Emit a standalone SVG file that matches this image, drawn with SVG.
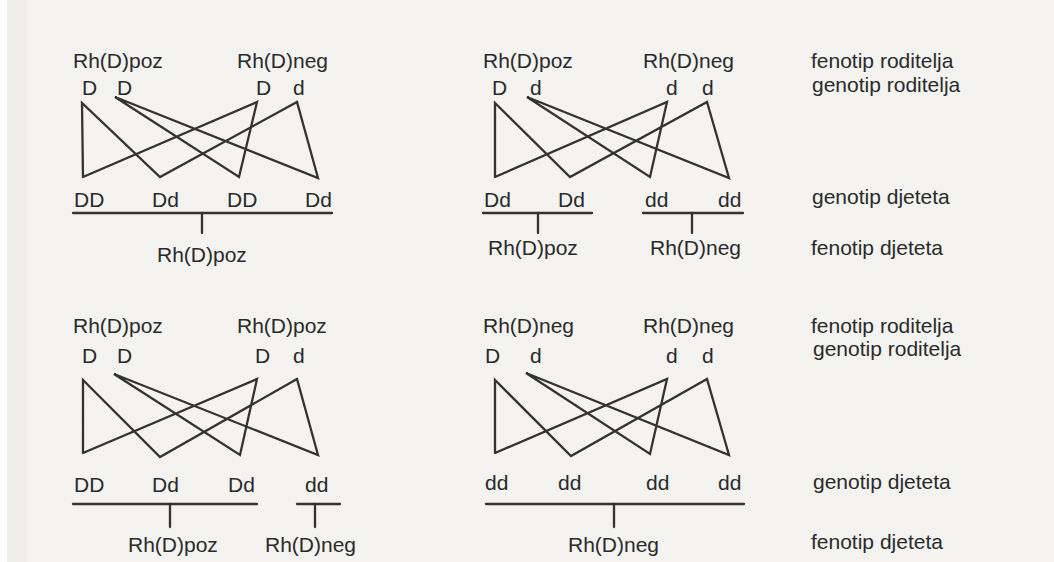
<svg xmlns="http://www.w3.org/2000/svg" width="1054" height="562" viewBox="0 0 1054 562">
<style>
text{font-family:"Liberation Sans",Arial,sans-serif;font-size:21px;fill:#2a2a2a}
.c line,.c polyline{stroke:#333;stroke-width:2.3;fill:none;stroke-linecap:round;stroke-linejoin:miter}
</style>
<rect width="1054" height="562" fill="#f4f3f0"/>
<rect x="0" y="0" width="7" height="562" fill="#fdfdfd"/>
<rect x="7" y="0" width="20" height="562" fill="#ecebe8" opacity="0.6"/>

<!-- Quadrant 1 -->
<g id="q1-parents">
<text x="73" y="68">Rh(D)poz</text>
<text x="237" y="68">Rh(D)neg</text>
<text x="82" y="95">D</text><text x="117" y="95">D</text>
<text x="256" y="95">D</text><text x="293" y="95">d</text>
</g>
<g id="q1-children">
<text x="74" y="207">DD</text><text x="152" y="207">Dd</text>
<text x="227" y="207">DD</text><text x="305" y="207">Dd</text>
<text x="157" y="262">Rh(D)poz</text>
</g>
<g id="q1-connectors" class="c">
<polyline points="83,177 82,103 160,177 297,102 318,178 115,97 239,177 257,102 83,177"/>
<line x1="73" y1="213" x2="332" y2="213"/>
<line x1="202" y1="213" x2="202" y2="233"/>
</g>

<!-- Quadrant 2 -->
<g id="q2-parents">
<text x="483" y="68">Rh(D)poz</text>
<text x="643" y="68">Rh(D)neg</text>
<text x="492" y="95">D</text><text x="530" y="95">d</text>
<text x="666" y="95">d</text><text x="702" y="95">d</text>
</g>
<g id="q2-children">
<text x="484" y="207">Dd</text><text x="558" y="207">Dd</text>
<text x="645" y="207">dd</text><text x="718" y="207">dd</text>
<text x="488" y="255">Rh(D)poz</text>
<text x="650" y="255">Rh(D)neg</text>
</g>
<g id="q2-connectors" class="c">
<polyline points="495,177 495,103 570,177 707,102 729,178 527,97 650,177 667,102 495,177"/>
<line x1="483" y1="213" x2="592" y2="213"/>
<line x1="538" y1="213" x2="538" y2="233"/>
<line x1="643" y1="213" x2="743" y2="213"/>
<line x1="692" y1="213" x2="692" y2="233"/>
</g>

<!-- Quadrant 3 -->
<g id="q3-parents">
<text x="73" y="333">Rh(D)poz</text>
<text x="237" y="333">Rh(D)poz</text>
<text x="82" y="363">D</text><text x="117" y="363">D</text>
<text x="255" y="363">D</text><text x="293" y="363">d</text>
</g>
<g id="q3-children">
<text x="74" y="492">DD</text><text x="152" y="492">Dd</text>
<text x="228" y="492">Dd</text><text x="305" y="492">dd</text>
<text x="128" y="552">Rh(D)poz</text>
<text x="265" y="552">Rh(D)neg</text>
</g>
<g id="q3-connectors" class="c">
<polyline points="83,453 83,380 160,457 297,379 318,455 114,374 240,455 257,379 83,453"/>
<line x1="73" y1="504" x2="257" y2="504"/>
<line x1="170" y1="504" x2="170" y2="527"/>
<line x1="297" y1="504" x2="340" y2="504"/>
<line x1="315" y1="504" x2="315" y2="527"/>
</g>

<!-- Quadrant 4 -->
<g id="q4-parents">
<text x="483" y="333">Rh(D)neg</text>
<text x="643" y="333">Rh(D)neg</text>
<text x="485" y="363">D</text><text x="530" y="363">d</text>
<text x="666" y="363">d</text><text x="702" y="363">d</text>
</g>
<g id="q4-children">
<text x="485" y="490">dd</text><text x="558" y="490">dd</text>
<text x="646" y="490">dd</text><text x="718" y="490">dd</text>
<text x="568" y="552">Rh(D)neg</text>
</g>
<g id="q4-connectors" class="c">
<polyline points="495,453 495,380 571,456 707,379 729,455 526,373 650,454 667,379 495,453"/>
<line x1="486" y1="504" x2="744" y2="504"/>
<line x1="614" y1="504" x2="614" y2="527"/>
</g>

<!-- Legend -->
<g id="legend-top">
<text x="811" y="68">fenotip roditelja</text>
<text x="812" y="92">genotip roditelja</text>
<text x="812" y="204">genotip djeteta</text>
<text x="811" y="255">fenotip djeteta</text>
</g>
<g id="legend-bottom">
<text x="811" y="333">fenotip roditelja</text>
<text x="813" y="356">genotip roditelja</text>
<text x="813" y="489">genotip djeteta</text>
<text x="811" y="549">fenotip djeteta</text>
</g>
</svg>
